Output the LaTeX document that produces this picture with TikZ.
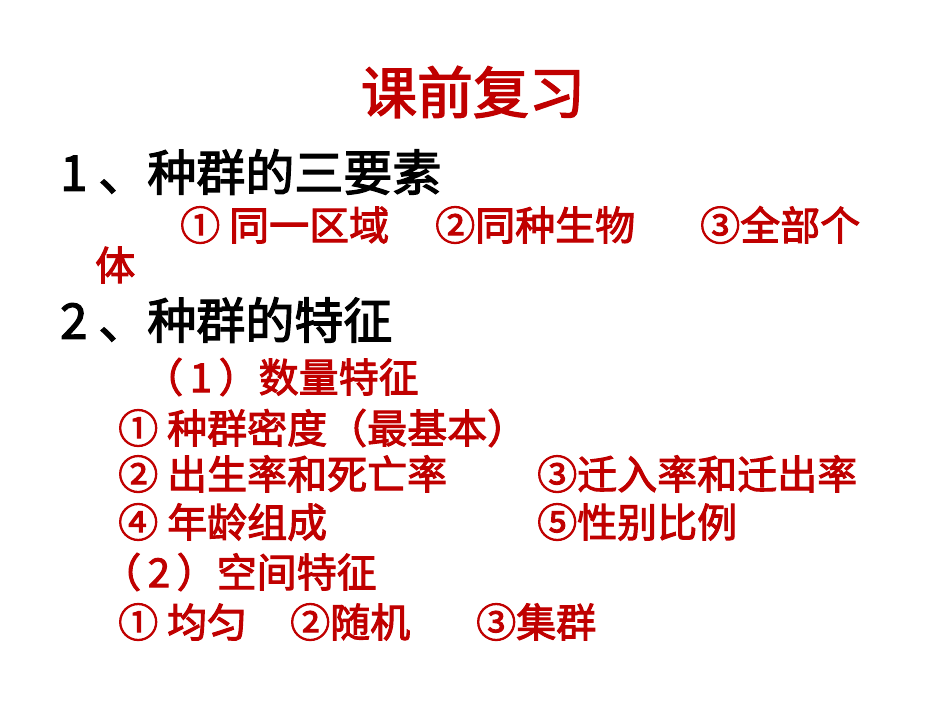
\documentclass[tikz,border=0pt]{standalone}
\usepackage{fontspec}
\newfontfamily\cjk[AutoFakeBold=2.5]{Noto Sans CJK SC}
\definecolor{rd}{RGB}{192,0,0}
\tikzset{
 h/.style={anchor=west,inner sep=0,font=\cjk\bfseries\fontsize{49}{51}\selectfont,text=black},
 r/.style={anchor=west,inner sep=0,font=\cjk\bfseries\fontsize{40}{42}\selectfont,text=rd},
}
\begin{document}
\begin{tikzpicture}[x=1pt,y=-1pt]
\useasboundingbox (0,0) rectangle (950,713);
\fill[white] (0,0) rectangle (950,713);
\node[inner sep=0,font=\cjk\bfseries\fontsize{56}{58}\selectfont,text=rd] (t) at (473,92) {课前复习};
\node[h] (h1) at (60,172) {1 、种群的三要素};
\node[r] (a1) at (180,225) {① 同一区域};
\node[r] (a2) at (435,225) {②同种生物};
\node[r] (a3) at (700,225) {③全部个};
\node[r] (a4) at (95,265) {体};
\node[h] (h2) at (60,320) {2 、种群的特征};
\node[r] (b0) at (143,377) {（\,1\,）数量特征};
\node[r] (b1) at (118,428) {① 种群密度（最基本）};
\node[r] (b2) at (118,474) {② 出生率和死亡率};
\node[r] (b3) at (537,474) {③迁入率和迁出率};
\node[r] (b4) at (118,522) {④ 年龄组成};
\node[r] (b5) at (537,522) {⑤性别比例};
\node[r] (c0) at (101,572) {（\,2\,）空间特征};
\node[r] (c1) at (118,622) {① 均匀};
\node[r] (c2) at (290,622) {②随机};
\node[r] (c3) at (476,622) {③集群};
\end{tikzpicture}
\end{document}
